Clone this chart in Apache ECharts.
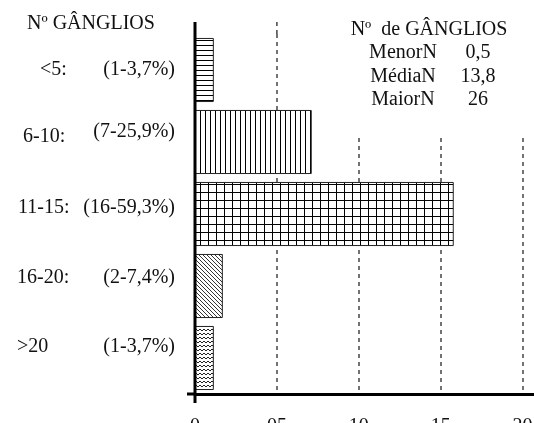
<!DOCTYPE html>
<html><head><meta charset="utf-8">
<script src="https://cdn.jsdelivr.net/npm/echarts@6/dist/echarts.min.js"></script>
<style>html,body{margin:0;padding:0;background:#fff}#c{width:534px;height:423px}</style>
</head><body><div id="c"></div>
<script>
const categories = ['<5:', '6-10:', '11-15:', '16-20:', '>20'];
const pctLabels = ['(1-3,7%)', '(7-25,9%)', '(16-59,3%)', '(2-7,4%)', '(1-3,7%)'];
const values = [1.15, 7.13, 15.8, 1.7, 1.15];
const xTickLabels = ['0', '05', '10', '15', '20'];
const titleText = 'Nº GÂNGLIOS';
const boxTitle = 'Nº  de GÂNGLIOS';
const statLabels = ['MenorN', 'MédiaN', 'MaiorN'];
const statValues = ['0,5', '13,8', '26'];

const FONT = '"Liberation Serif", "Times New Roman", serif';
const TXT = '#111';

function pat(w, h, draw, lw, col) {
  const c = document.createElement('canvas');
  c.width = w; c.height = h;
  const g = c.getContext('2d');
  g.fillStyle = '#fff'; g.fillRect(0, 0, w, h);
  g.strokeStyle = col || '#000'; g.lineWidth = lw || 1;
  g.beginPath(); draw(g, w, h); g.stroke();
  return { image: c, repeat: 'repeat' };
}
const patterns = [
  pat(4, 5, g => { g.moveTo(0, 0.5); g.lineTo(4, 0.5); }),
  pat(5, 4, g => { g.moveTo(0.5, 0); g.lineTo(0.5, 4); }),
  pat(8, 8, g => { g.moveTo(0.5, 0); g.lineTo(0.5, 8); g.moveTo(0, 0.5); g.lineTo(8, 0.5); }),
  pat(4, 4, g => { for (const o of [-4, 0, 4]) { g.moveTo(o - 1, -1); g.lineTo(o + 5, 5); } }, 1, '#333'),
  pat(8, 4, g => { g.moveTo(0, 1); g.lineTo(2, 3); g.lineTo(4, 1); g.lineTo(6, 3); g.lineTo(8, 1); }, 1, '#222')
];

const leftPad = [23, 6, 1, 0, 0];
const dA = [0, -5, -6, -8, -11];
const dB = [0, -10, -6, -8, -11];
const rich = {};
categories.forEach((c, i) => {
  rich['a' + i] = { width: 58 - leftPad[i], align: 'left', fontFamily: FONT, fontSize: 20, color: TXT, lineHeight: 20,
    padding: [15 + dA[i], 0, 15 - dA[i], leftPad[i]] };
  rich['b' + i] = { width: 100, align: 'right', fontFamily: FONT, fontSize: 20, color: TXT, lineHeight: 20,
    padding: [15 + dB[i], 0, 15 - dB[i], 0] };
});

const GRID = { left: 195, right: 0, top: 34, bottom: 29, containLabel: false, outerBoundsMode: 'none' };
const chart = echarts.init(document.getElementById('c'));
chart.setOption({
  backgroundColor: '#fff',
  animation: false,
  title: { text: titleText, left: 22, top: 9, textStyle: { fontFamily: FONT, fontSize: 20, fontWeight: 'normal', color: TXT, lineHeight: 20 } },
  grid: GRID,
  xAxis: {
    type: 'value', min: 0, max: 20.7, interval: 5,
    axisLine: { show: true, lineStyle: { color: '#000', width: 3 } },
    axisTick: { show: false },
    axisLabel: { showMaxLabel: false, margin: 23, fontFamily: FONT, fontSize: 20, color: TXT,
      formatter: v => xTickLabels[Math.round(v / 5)] || '' },
    splitLine: { show: true, showMinLine: false, showMaxLine: false, lineStyle: { color: '#444', width: 1.5, type: [4, 4] } }
  },
  yAxis: {
    type: 'category', inverse: true, data: categories,
    axisLine: { show: false }, axisTick: { show: false },
    axisLabel: { margin: 20, formatter: (v, i) => '{a' + i + '|' + categories[i] + '}{b' + i + '|' + pctLabels[i] + '}', rich: rich }
  },
  series: [{
    type: 'bar', barCategoryGap: '11%',
    data: values.map((v, i) => ({ value: v, itemStyle: { color: patterns[i], borderColor: '#222', borderWidth: 1 } }))
  }]
});

const x0 = chart.convertToPixel({ xAxisIndex: 0 }, 0);
const x5 = chart.convertToPixel({ xAxisIndex: 0 }, 5);
const yAx = 423 - GRID.bottom;
const gtext = (t, x, y) => ({ type: 'text', x: x, y: y, z: 3,
  style: { text: t, fill: TXT, font: '20px ' + FONT, align: 'center', verticalAlign: 'middle', textAlign: 'center', textVerticalAlign: 'middle' } });
const elements = [
  { type: 'rect', z: 1, shape: { x: 340, y: 0, width: 194, height: 138 }, style: { fill: '#fff' } },
  { type: 'line', z: 10, shape: { x1: x0, y1: 22, x2: x0, y2: yAx + 9 }, style: { stroke: '#000', lineWidth: 3 } },
  { type: 'line', z: 10, shape: { x1: x0 - 8, y1: yAx, x2: x0, y2: yAx }, style: { stroke: '#000', lineWidth: 3 } },
  { type: 'line', z: 0, shape: { x1: x5, y1: 22, x2: x5, y2: GRID.top }, style: { stroke: '#444', lineWidth: 1.5, lineDash: [4, 4] } },
  gtext(boxTitle, 429, 30)
];
statLabels.forEach((s, i) => {
  elements.push(gtext(s, 403, 53 + i * 23.5));
  elements.push(gtext(statValues[i], 478, 53 + i * 23.5));
});
chart.setOption({ graphic: { elements: elements } });
</script></body></html>
